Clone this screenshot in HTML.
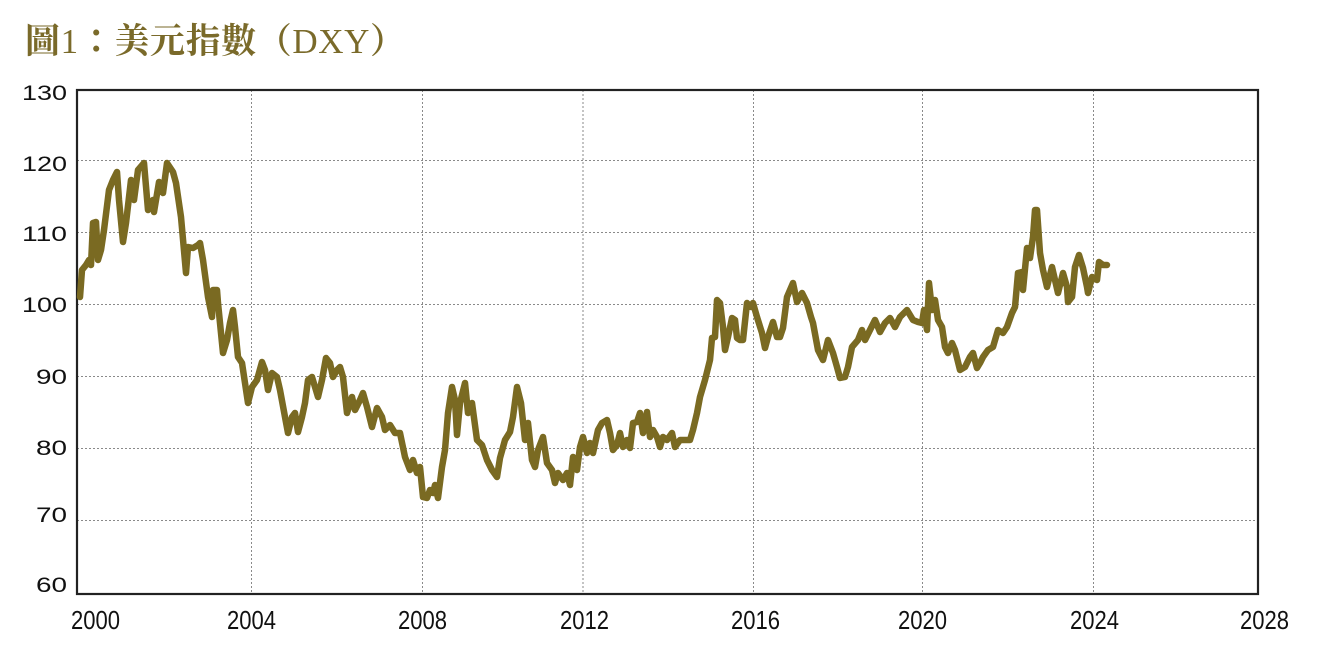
<!DOCTYPE html>
<html lang="zh-TW">
<head>
<meta charset="utf-8">
<style>
html,body{margin:0;padding:0;background:#fff;}
body{width:1318px;height:654px;overflow:hidden;}
svg{display:block;}
</style>
</head>
<body>
<svg width="1318" height="654" viewBox="0 0 1318 654" xmlns="http://www.w3.org/2000/svg">
<rect x="0" y="0" width="1318" height="654" fill="#fff"/>
<!-- Title -->
<text lang="zh-TW" x="25" y="53" font-family="'Liberation Serif','Noto Serif CJK TC','Noto Serif CJK SC',serif" font-weight="bold" font-size="35" letter-spacing="0.6" fill="#7a6a2a" style="font-variant-east-asian:traditional;">圖<tspan font-weight="normal">1</tspan>：美元指數（<tspan font-weight="normal">DXY</tspan>）</text>

<!-- gridlines -->
<g stroke="#8a8a8a" stroke-width="1" stroke-dasharray="2,2" fill="none">
<line x1="77" y1="160.5" x2="1258" y2="160.5"/>
<line x1="77" y1="232.5" x2="1258" y2="232.5"/>
<line x1="77" y1="304.5" x2="1258" y2="304.5"/>
<line x1="77" y1="376.5" x2="1258" y2="376.5"/>
<line x1="77" y1="448.5" x2="1258" y2="448.5"/>
<line x1="77" y1="520.5" x2="1258" y2="520.5"/>
<line x1="251.5" y1="90" x2="251.5" y2="594"/>
<line x1="422.5" y1="90" x2="422.5" y2="594"/>
<line x1="583" y1="90" x2="583" y2="594"/>
<line x1="753.5" y1="90" x2="753.5" y2="594"/>
<line x1="922.5" y1="90" x2="922.5" y2="594"/>
<line x1="1093.5" y1="90" x2="1093.5" y2="594"/>
</g>

<!-- plot frame -->
<rect x="77" y="90" width="1181" height="504" fill="none" stroke="#222" stroke-width="2.2"/>

<!-- series -->
<polyline fill="none" stroke="#7a6a22" stroke-width="6.5" stroke-linejoin="round" stroke-linecap="round"
points="80,297 82,270 86,265 89,260 91,265 93,223 96,222 98,260 101,250 104,230 109,190 113,180 117,172 119,200 123,242 126,223 131,180 134,200 138,170 144,163 148,210 153,200 154,212 159,182 163,193 167,163 173,172 176,183 181,217 186,273 188,247 193,248 198,245 200,243 203,260 208,297 212,317 213,290 217,290 218,303 223,353 227,340 230,323 233,310 235,327 238,357 242,363 248,403 252,387 257,380 262,362 265,370 268,390 272,373 277,377 280,390 285,417 288,433 292,417 295,413 298,432 302,417 305,403 308,380 312,377 315,387 318,397 322,380 326,358 330,363 333,377 337,370 340,367 343,377 347,413 352,397 355,410 360,400 363,393 367,407 372,427 377,408 382,417 385,430 390,425 395,433 400,433 405,457 410,470 413,460 417,473 420,467 423,497 427,498 430,490 433,493 435,485 438,498 442,467 445,450 448,413 452,387 455,400 457,435 460,403 465,383 468,413 472,403 477,440 482,445 487,460 492,470 497,477 500,458 505,440 510,432 513,417 517,387 521,403 525,440 528,423 532,460 535,467 538,450 543,437 547,463 552,470 555,483 558,473 563,480 567,473 570,485 573,457 577,470 580,447 583,437 587,453 590,443 593,453 598,430 602,423 607,420 610,433 613,450 617,445 620,433 623,447 627,440 630,448 633,423 637,422 640,413 643,433 647,412 650,437 653,430 657,437 660,447 663,437 667,440 672,433 675,447 680,440 685,440 690,440 693,430 697,413 700,397 705,380 710,360 712,338 715,337 717,300 720,303 723,327 725,350 728,337 732,318 735,320 737,338 740,340 743,340 747,303 751,307 753,303 757,317 762,333 765,348 768,337 773,322 777,337 780,337 783,328 787,297 793,283 797,302 802,293 807,303 811,317 813,323 818,350 823,360 828,340 833,353 837,367 840,378 845,377 848,367 852,347 858,340 862,330 865,340 870,330 875,320 880,332 885,323 890,318 895,327 900,317 907,310 913,320 918,322 922,323 924,310 927,330 929,283 932,310 935,300 938,320 942,327 945,347 948,353 952,343 955,350 960,370 965,367 970,357 973,353 977,368 980,363 983,357 988,350 993,347 998,330 1003,333 1007,327 1012,313 1015,307 1018,273 1022,272 1023,290 1027,248 1030,258 1033,237 1035,210 1037,210 1040,253 1043,270 1047,287 1052,267 1055,280 1058,293 1063,273 1067,287 1068,302 1072,297 1075,267 1079,255 1083,268 1087,287 1088,293 1092,277 1097,280 1099,262 1103,265 1107,265"/>

<!-- Y tick labels -->
<g font-family="'Liberation Sans',sans-serif" font-size="21" fill="#111">
<text x="22" y="100" textLength="45" lengthAdjust="spacingAndGlyphs">130</text>
<text x="22" y="171" textLength="45" lengthAdjust="spacingAndGlyphs">120</text>
<text x="22" y="241" textLength="45" lengthAdjust="spacingAndGlyphs">110</text>
<text x="22" y="312" textLength="45" lengthAdjust="spacingAndGlyphs">100</text>
<text x="36" y="384" textLength="31" lengthAdjust="spacingAndGlyphs">90</text>
<text x="36" y="455" textLength="31" lengthAdjust="spacingAndGlyphs">80</text>
<text x="36" y="522" textLength="31" lengthAdjust="spacingAndGlyphs">70</text>
<text x="36" y="592" textLength="31" lengthAdjust="spacingAndGlyphs">60</text>
</g>

<!-- X tick labels -->
<g font-family="'Liberation Sans',sans-serif" font-size="26" fill="#111">
<text x="71" y="629" textLength="49" lengthAdjust="spacingAndGlyphs">2000</text>
<text x="227" y="629" textLength="49" lengthAdjust="spacingAndGlyphs">2004</text>
<text x="398" y="629" textLength="49" lengthAdjust="spacingAndGlyphs">2008</text>
<text x="560" y="629" textLength="49" lengthAdjust="spacingAndGlyphs">2012</text>
<text x="731" y="629" textLength="49" lengthAdjust="spacingAndGlyphs">2016</text>
<text x="898" y="629" textLength="49" lengthAdjust="spacingAndGlyphs">2020</text>
<text x="1070" y="629" textLength="49" lengthAdjust="spacingAndGlyphs">2024</text>
<text x="1240" y="629" textLength="49" lengthAdjust="spacingAndGlyphs">2028</text>
</g>
</svg>
</body>
</html>
